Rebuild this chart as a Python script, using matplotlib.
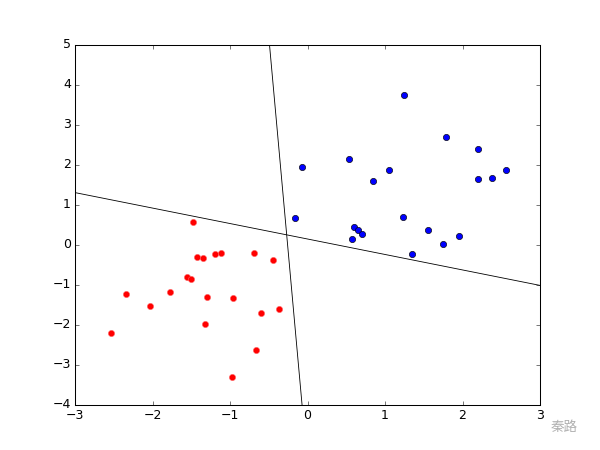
import numpy as np
import matplotlib
matplotlib.use("Agg")
import matplotlib.pyplot as plt

# Klasse 1 (rød)
red_x = [-1.48, -1.43, -1.35, -1.20, -1.12, -0.69, -0.44, -1.55, -1.50, -2.34,
         -1.77, -2.03, -1.30, -0.96, -0.60, -0.37, -1.32, -2.54, -0.66, -0.98]
red_y = [0.58, -0.31, -0.33, -0.23, -0.21, -0.19, -0.38, -0.81, -0.84, -1.23,
         -1.18, -1.52, -1.30, -1.33, -1.71, -1.61, -1.98, -2.19, -2.63, -3.29]

# Klasse 2 (blå)
blue_x = [1.25, 1.79, 2.20, 0.53, -0.07, 1.05, 0.84, 2.20, 2.38, 2.56,
          -0.16, 1.23, 0.60, 0.65, 0.70, 0.58, 1.55, 1.75, 1.95, 1.35]
blue_y = [3.76, 2.71, 2.40, 2.16, 1.94, 1.88, 1.59, 1.65, 1.68, 1.88,
          0.68, 0.69, 0.46, 0.37, 0.27, 0.15, 0.38, 0.03, 0.22, -0.23]

# Skillelinjer (endepunkter)
line1_x = [-3.0, 3.0]
line1_y = [1.31, -1.01]
line2_x = [-0.49, -0.07]
line2_y = [5.0, -4.0]

plt.style.use("classic")
fig = plt.figure(figsize=(8, 6), dpi=75)
ax = fig.add_subplot(111)

ax.plot(red_x, red_y, "ro", markersize=6, markeredgecolor="#ff6666", markeredgewidth=0.5)
ax.plot(blue_x, blue_y, "bo", markersize=6, markeredgecolor="k", markeredgewidth=0.6)
ax.plot(line1_x, line1_y, "k-", linewidth=0.8)
ax.plot(line2_x, line2_y, "k-", linewidth=0.8)

ax.set_xlim(-3, 3)
ax.set_ylim(-4, 5)

# vannmerke
fig.text(0.94, 0.052, "秦路", fontsize=13, color="#b0b0b0",
         family=["Noto Sans CJK SC", "DejaVu Sans"], ha="center", va="center")

fig.savefig("out.png", dpi=75, facecolor="white")
